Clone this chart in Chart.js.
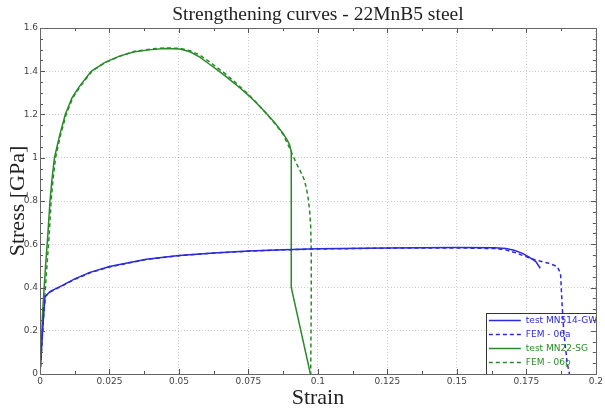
<!DOCTYPE html>
<html>
<head>
<meta charset="utf-8">
<script src="https://cdn.jsdelivr.net/npm/chart.js@4.4.0/dist/chart.umd.min.js"></script>
<style>
  html, body { margin: 0; padding: 0; background: #fff; }
  #wrap { width: 605px; height: 410px; }
</style>
</head>
<body>
<div id="wrap"><canvas id="curves" width="605" height="410"></canvas></div>
<script>
// tick labels
var xTicks = [0, 0.025, 0.05, 0.075, 0.1, 0.125, 0.15, 0.175, 0.2];
var yTicks = [0, 0.2, 0.4, 0.6, 0.8, 1, 1.2, 1.4, 1.6];

// test MN514-GW (blue, solid)
var gwTestStrain = [0, 0.0012, 0.0018, 0.0036, 0.0084, 0.0125, 0.018, 0.025, 0.0383, 0.05, 0.0625, 0.075, 0.0875, 0.1, 0.125, 0.15, 0.1636, 0.1676, 0.1706, 0.1736, 0.176, 0.1784, 0.180];
var gwTestStress = [0, 0.25, 0.358, 0.381, 0.412, 0.44, 0.47, 0.497, 0.531, 0.548, 0.56, 0.569, 0.575, 0.579, 0.583, 0.585, 0.584, 0.580, 0.572, 0.558, 0.54, 0.52, 0.489];

// FEM - 06a (blue, dashed)
var gwFemStrain = [0, 0.0014, 0.002, 0.004, 0.0084, 0.0125, 0.018, 0.025, 0.0383, 0.05, 0.0625, 0.075, 0.0875, 0.1, 0.125, 0.15, 0.1636, 0.1676, 0.1712, 0.1748, 0.178, 0.1831, 0.1861, 0.1873, 0.1879, 0.1885, 0.1897, 0.1905];
var gwFemStress = [0, 0.3, 0.36, 0.382, 0.41, 0.438, 0.468, 0.495, 0.53, 0.547, 0.559, 0.568, 0.574, 0.578, 0.582, 0.583, 0.58, 0.574, 0.56, 0.543, 0.528, 0.512, 0.497, 0.466, 0.312, 0.19, 0.05, 0];

// test MN22-SG (green, solid)
var sgTestStrain = [0, 0.001, 0.002, 0.0028, 0.0036, 0.0043, 0.0052, 0.007, 0.0091, 0.0115, 0.0142, 0.0184, 0.0232, 0.0286, 0.034, 0.040, 0.045, 0.0503, 0.054, 0.0575, 0.0605, 0.0634, 0.0665, 0.0694, 0.0724, 0.0754, 0.0784, 0.0814, 0.0844, 0.0874, 0.089, 0.0898, 0.0904, 0.0904, 0.0973];
var sgTestStress = [0, 0.3, 0.5, 0.64, 0.8, 0.9, 1.0, 1.1, 1.2, 1.277, 1.33, 1.4, 1.44, 1.47, 1.49, 1.50, 1.505, 1.503, 1.49, 1.465, 1.437, 1.41, 1.38, 1.35, 1.318, 1.284, 1.246, 1.206, 1.163, 1.114, 1.08, 1.06, 1.03, 0.4, 0];

// FEM - 06p (green, dashed)
var sgFemStrain = [0, 0.0014, 0.0025, 0.0033, 0.004, 0.0047, 0.0056, 0.0073, 0.0094, 0.0118, 0.0145, 0.0187, 0.0234, 0.0288, 0.034, 0.04, 0.045, 0.0503, 0.054, 0.0575, 0.0605, 0.0634, 0.0665, 0.0694, 0.0724, 0.0754, 0.0784, 0.0814, 0.0844, 0.0874, 0.0898, 0.091, 0.0922, 0.0938, 0.0952, 0.0963, 0.097, 0.0974, 0.0976, 0.0976, 0.0974];
var sgFemStress = [0, 0.3, 0.5, 0.64, 0.8, 0.9, 1.0, 1.1, 1.2, 1.277, 1.33, 1.4, 1.44, 1.47, 1.492, 1.503, 1.508, 1.506, 1.495, 1.475, 1.448, 1.42, 1.39, 1.358, 1.324, 1.288, 1.248, 1.205, 1.16, 1.11, 1.045, 1.01, 0.975, 0.935, 0.895, 0.83, 0.76, 0.68, 0.574, 0.343, 0];

var TITLE = 'Strengthening curves - 22MnB5 steel';
var BLUE = '#2b2bdc';
var GREEN = '#2a8a2a';

function toPoints(xs, ys) {
  return xs.map(function(x, i) { return { x: x, y: ys[i] }; });
}

function fmt(v) {
  return String(Number(v.toFixed(4)));
}

// title centred over the plot area (not the whole canvas)
var plotTitle = {
  id: 'plotTitle',
  afterDraw: function(chart) {
    var ctx = chart.ctx, a = chart.chartArea;
    ctx.save();
    ctx.fillStyle = '#222';
    ctx.font = '19.5px "Liberation Serif", serif';
    ctx.textAlign = 'center';
    ctx.textBaseline = 'middle';
    ctx.fillText(TITLE, (a.left + a.right) / 2, 15);
    ctx.restore();
  }
};

// frame + inward ticks like the original plot
var framePlugin = {
  id: 'frame',
  afterDraw: function(chart) {
    var ctx = chart.ctx, a = chart.chartArea;
    var xs = chart.scales.x, ys = chart.scales.y;
    ctx.save();
    ctx.strokeStyle = '#555';
    ctx.lineWidth = 1;
    ctx.beginPath();
    var i, v, p;
    for (i = 0; i <= 16; i++) {
      v = i * 0.0125;
      p = Math.round(xs.getPixelForValue(v)) + 0.5;
      var lx = (i % 2 === 0) ? 5 : 3;
      ctx.moveTo(p, a.bottom); ctx.lineTo(p, a.bottom - lx);
      ctx.moveTo(p, a.top); ctx.lineTo(p, a.top + lx);
    }
    for (i = 0; i <= 32; i++) {
      v = i * 0.05;
      p = Math.round(ys.getPixelForValue(v)) + 0.5;
      var ly = (i % 4 === 0) ? 5 : 3;
      ctx.moveTo(a.left, p); ctx.lineTo(a.left + ly, p);
      ctx.moveTo(a.right, p); ctx.lineTo(a.right - ly, p);
    }
    ctx.stroke();
    ctx.strokeStyle = '#666';
    ctx.strokeRect(Math.round(a.left) + 0.5, Math.round(a.top) + 0.5,
                   Math.round(a.right - a.left), Math.round(a.bottom - a.top));
    ctx.restore();
  }
};

// legend box in the lower right of the plot, under the curves
var boxLegend = {
  id: 'boxLegend',
  beforeDatasetsDraw: function(chart) {
    var ctx = chart.ctx, a = chart.chartArea;
    var w = 110, h = 61;
    var left = a.right - w, top = a.bottom - h;
    ctx.save();
    ctx.fillStyle = '#fff';
    ctx.fillRect(left, top, w, h);
    ctx.strokeStyle = '#333';
    ctx.lineWidth = 1;
    ctx.strokeRect(Math.round(left) + 0.5, Math.round(top) + 0.5, w, h);
    ctx.font = '9px "DejaVu Sans"';
    ctx.textBaseline = 'middle';
    chart.data.datasets.forEach(function(ds, i) {
      var y = Math.round(top + 7 + i * 14) + 0.5;
      ctx.strokeStyle = ds.borderColor;
      ctx.lineWidth = ds.borderWidth;
      ctx.setLineDash(ds.borderDash || []);
      ctx.beginPath();
      ctx.moveTo(left + 3, y);
      ctx.lineTo(left + 35, y);
      ctx.stroke();
      ctx.setLineDash([]);
      ctx.fillStyle = ds.borderColor;
      ctx.fillText(ds.label, left + 40, y);
    });
    ctx.restore();
  }
};

var chartCtx = document.getElementById('curves');
var curvesChart = new Chart(chartCtx, {
  type: 'line',
  data: {
    datasets: [{
      label: 'test MN514-GW',
      data: toPoints(gwTestStrain, gwTestStress),
      borderColor: BLUE,
      borderWidth: 1.5
    }, {
      label: 'FEM - 06a',
      data: toPoints(gwFemStrain, gwFemStress),
      borderColor: BLUE,
      borderWidth: 1.5,
      borderDash: [4, 3]
    }, {
      label: 'test MN22-SG',
      data: toPoints(sgTestStrain, sgTestStress),
      borderColor: GREEN,
      borderWidth: 1.5
    }, {
      label: 'FEM - 06p',
      data: toPoints(sgFemStrain, sgFemStress),
      borderColor: GREEN,
      borderWidth: 1.5,
      borderDash: [4, 3]
    }]
  },
  options: {
    responsive: false,
    animation: false,
    devicePixelRatio: 1,
    layout: { padding: { left: 0, right: 8, top: 28, bottom: 0 } },
    elements: {
      point: { radius: 0 },
      line: { tension: 0, fill: false }
    },
    plugins: {
      legend: { display: false },
      tooltip: { enabled: false },
      title: { display: false }
    },
    scales: {
      x: {
        type: 'linear',
        min: 0,
        max: 0.2,
        afterFit: function(s) { s.height = 36; },
        afterBuildTicks: function(s) { s.ticks = xTicks.map(function(v) { return { value: v }; }); },
        ticks: {
          callback: function(v) { return fmt(v); },
          color: '#444',
          font: { family: '"DejaVu Sans"', size: 9 },
          padding: 2,
          maxRotation: 0,
          autoSkip: false
        },
        grid: { color: 'rgba(0,0,0,0.2)', drawTicks: false },
        border: { display: false, dash: [1, 2] },
        title: {
          display: true,
          text: 'Strain',
          color: '#222',
          font: { family: '"Liberation Serif", serif', size: 22, lineHeight: 1.1 },
          padding: { top: 0, bottom: 0 }
        }
      },
      y: {
        type: 'linear',
        min: 0,
        max: 1.6,
        afterFit: function(s) { s.width = 40; },
        afterBuildTicks: function(s) { s.ticks = yTicks.map(function(v) { return { value: v }; }); },
        ticks: {
          callback: function(v) { return fmt(v); },
          color: '#444',
          font: { family: '"DejaVu Sans"', size: 9 },
          padding: 2
        },
        grid: { color: 'rgba(0,0,0,0.2)', drawTicks: false },
        border: { display: false, dash: [1, 2] },
        title: {
          display: true,
          text: 'Stress [GPa]',
          color: '#222',
          font: { family: '"Liberation Serif", serif', size: 22, lineHeight: 1.1 },
          padding: { top: 6, bottom: 0 }
        }
      }
    }
  },
  plugins: [boxLegend, framePlugin, plotTitle]
});
</script>
</body>
</html>
